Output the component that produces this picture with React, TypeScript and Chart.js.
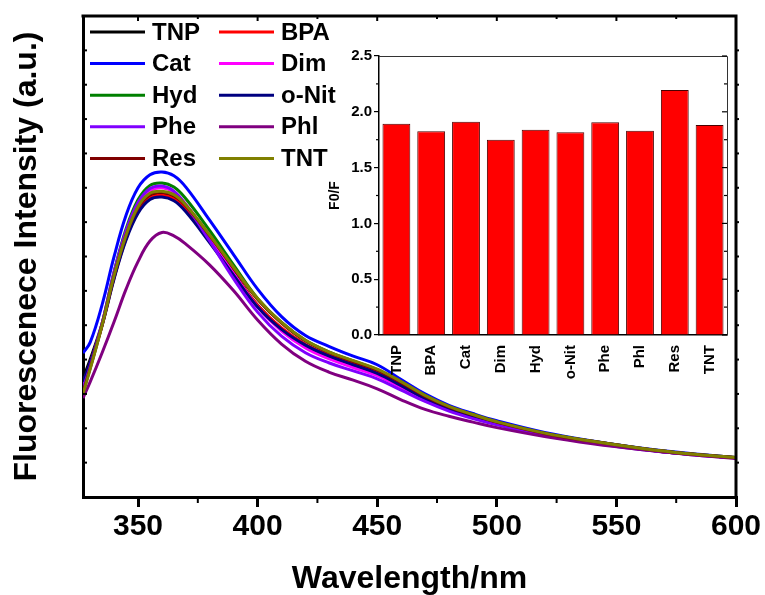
import React, { useEffect, useRef } from 'react';
import { Chart, registerables } from 'chart.js';

Chart.register(...registerables);

const FONT = '"Liberation Sans", Arial, Helvetica, sans-serif';

// ---------- main spectra ----------
const WAVELENGTHS = [327, 330, 335, 340, 345, 350, 355, 360, 365, 370, 380, 390, 400, 410, 420, 430, 440, 450, 460, 470, 480, 490, 500, 520, 540, 560, 580, 600];

const TNP = [3.45, 4.0, 5.05, 6.4, 7.55, 8.35, 8.75, 8.82, 8.72, 8.4, 7.5, 6.52, 5.58, 4.9, 4.42, 4.1, 3.85, 3.6, 3.24, 2.86, 2.56, 2.34, 2.14, 1.82, 1.6, 1.4, 1.25, 1.14];
const BPA = [3.3, 3.9, 5.0, 6.38, 7.52, 8.3, 8.7, 8.78, 8.68, 8.38, 7.48, 6.5, 5.58, 4.92, 4.44, 4.12, 3.87, 3.62, 3.26, 2.88, 2.58, 2.35, 2.15, 1.83, 1.6, 1.4, 1.25, 1.14];
const CAT = [4.19, 4.5, 5.6, 7.0, 8.2, 9.0, 9.38, 9.46, 9.35, 9.02, 8.05, 7.05, 6.05, 5.25, 4.7, 4.38, 4.1, 3.85, 3.42, 3.0, 2.67, 2.43, 2.22, 1.88, 1.63, 1.43, 1.27, 1.15];
const DIM = [3.2, 3.85, 5.05, 6.5, 7.7, 8.5, 8.92, 9.0, 8.88, 8.52, 7.55, 6.5, 5.53, 4.83, 4.34, 4.02, 3.77, 3.53, 3.19, 2.83, 2.54, 2.32, 2.13, 1.81, 1.59, 1.4, 1.25, 1.14];
const HYD = [3.1, 3.8, 5.05, 6.55, 7.8, 8.65, 9.07, 9.14, 9.02, 8.68, 7.75, 6.75, 5.78, 5.08, 4.56, 4.22, 3.96, 3.71, 3.35, 2.95, 2.63, 2.4, 2.19, 1.86, 1.62, 1.42, 1.26, 1.15];
const ONIT = [3.35, 3.92, 5.0, 6.35, 7.48, 8.26, 8.66, 8.73, 8.62, 8.3, 7.4, 6.45, 5.53, 4.88, 4.42, 4.1, 3.85, 3.6, 3.24, 2.86, 2.56, 2.34, 2.14, 1.82, 1.6, 1.4, 1.25, 1.14];
const PHE = [3.15, 3.8, 5.05, 6.55, 7.75, 8.57, 8.98, 9.05, 8.9, 8.5, 7.45, 6.35, 5.38, 4.68, 4.2, 3.9, 3.67, 3.44, 3.11, 2.78, 2.5, 2.28, 2.1, 1.79, 1.57, 1.38, 1.24, 1.13];
const PHL = [2.88, 3.35, 4.2, 5.1, 6.05, 6.85, 7.45, 7.7, 7.6, 7.36, 6.75, 6.0, 5.15, 4.45, 3.95, 3.63, 3.4, 3.15, 2.83, 2.55, 2.35, 2.18, 2.02, 1.76, 1.55, 1.38, 1.24, 1.12];
const RES = [3.05, 3.75, 5.0, 6.45, 7.62, 8.42, 8.8, 8.87, 8.77, 8.48, 7.6, 6.65, 5.75, 5.06, 4.54, 4.2, 3.94, 3.69, 3.33, 2.93, 2.62, 2.39, 2.18, 1.85, 1.62, 1.42, 1.26, 1.15];
const TNT = [3.0, 3.72, 5.0, 6.45, 7.62, 8.45, 8.84, 8.9, 8.8, 8.5, 7.62, 6.68, 5.78, 5.08, 4.56, 4.22, 3.97, 3.72, 3.36, 2.96, 2.64, 2.4, 2.19, 1.86, 1.62, 1.42, 1.26, 1.15];

const SERIES_NAMES = ['TNP', 'BPA', 'Cat', 'Dim', 'Hyd', 'o-Nit', 'Phe', 'Phl', 'Res', 'TNT'];
const SERIES_COLORS = ['#000000', '#ff0000', '#0000ff', '#ff00ff', '#008000', '#000080', '#8000ff', '#800080', '#800000', '#808000'];
const SPECTRA = [TNP, BPA, CAT, DIM, HYD, ONIT, PHE, PHL, RES, TNT];

const X_TICKS = [350, 400, 450, 500, 550, 600];
const X_MINOR = [375, 425, 475, 525, 575];
const Y_TICKS = [1, 2, 3, 4, 5, 6, 7, 8, 9, 10, 11, 12, 13];

// ---------- inset bars ----------
const BAR_CATEGORIES = ['TNP', 'BPA', 'Cat', 'Dim', 'Hyd', 'o-Nit', 'Phe', 'Phl', 'Res', 'TNT'];
const BAR_VALUES = [1.893, 1.825, 1.911, 1.75, 1.84, 1.816, 1.906, 1.831, 2.195, 1.882];
const INSET_Y_TICKS = [0, 0.5, 1.0, 1.5, 2.0, 2.5];
const INSET_Y_MINOR = [0.25, 0.75, 1.25, 1.75, 2.25];

function seg(ctx: CanvasRenderingContext2D, x1: number, y1: number, x2: number, y2: number) {
  ctx.beginPath();
  ctx.moveTo(x1, y1);
  ctx.lineTo(x2, y2);
  ctx.stroke();
}

const mainFramePlugin = {
  id: 'mainFrame',
  afterDraw(chart: any) {
    const { ctx, chartArea } = chart;
    const { left, right, top, bottom } = chartArea;
    const x = chart.scales.x;
    const y = chart.scales.y;
    ctx.save();
    ctx.strokeStyle = '#000';
    ctx.lineWidth = 3;
    ctx.beginPath();
    ctx.moveTo(left - 1.5, top);
    ctx.lineTo(right, top);
    ctx.lineTo(right, bottom + 1.5);
    ctx.stroke();
    ctx.lineWidth = 2;
    X_MINOR.forEach((v) => {
      const px = x.getPixelForValue(v);
      seg(ctx, px, bottom, px, bottom + 6);
      seg(ctx, px, top, px, top + 3);
    });
    X_TICKS.forEach((v) => {
      const px = x.getPixelForValue(v);
      seg(ctx, px, top, px, top + 5);
    });
    Y_TICKS.forEach((v) => {
      const py = y.getPixelForValue(v);
      seg(ctx, left, py, left + 4, py);
      seg(ctx, right, py, right + 3, py);
    });
    ctx.restore();
  },
};

const legendPlugin = {
  id: 'customLegend',
  afterDraw(chart: any) {
    const { ctx } = chart;
    ctx.save();
    ctx.font = `bold 24px ${FONT}`;
    ctx.textBaseline = 'middle';
    ctx.textAlign = 'left';
    ctx.lineWidth = 3;
    SERIES_NAMES.forEach((name, i) => {
      const col = i % 2;
      const row = Math.floor(i / 2);
      const yy = 32 + row * 31.6;
      const x0 = col === 0 ? 90 : 219;
      ctx.strokeStyle = SERIES_COLORS[i];
      seg(ctx, x0, yy, x0 + 55, yy);
      ctx.fillStyle = '#000';
      ctx.fillText(name, x0 + 62, yy + 1);
    });
    ctx.restore();
  },
};

const insetFramePlugin = {
  id: 'insetFrame',
  afterDraw(chart: any) {
    const { ctx, chartArea } = chart;
    const { left, right, top, bottom } = chartArea;
    const y = chart.scales.y;
    ctx.save();
    ctx.strokeStyle = '#333';
    ctx.lineWidth = 1;
    ctx.beginPath();
    ctx.moveTo(left, top + 0.5);
    ctx.lineTo(right + 0.5, top + 0.5);
    ctx.lineTo(right + 0.5, bottom);
    ctx.stroke();
    ctx.strokeStyle = '#000';
    ctx.lineWidth = 1.2;
    INSET_Y_MINOR.forEach((v) => {
      const py = y.getPixelForValue(v);
      seg(ctx, left - 3, py, left, py);
      seg(ctx, right, py, right - 3, py);
    });
    INSET_Y_TICKS.forEach((v) => {
      const py = y.getPixelForValue(v);
      seg(ctx, right, py, right - 5, py);
    });
    ctx.restore();
  },
};

export default function App() {
  const mainRef = useRef<HTMLCanvasElement | null>(null);
  const insetRef = useRef<HTMLCanvasElement | null>(null);

  useEffect(() => {
    document.body.style.margin = '0';
    const mainChart = new Chart(mainRef.current as HTMLCanvasElement, {
      type: 'line',
      data: {
        datasets: SPECTRA.map((vals, i) => ({
          label: SERIES_NAMES[i],
          data: WAVELENGTHS.map((w, j) => ({ x: w, y: vals[j] })),
          borderColor: SERIES_COLORS[i],
          backgroundColor: SERIES_COLORS[i],
          borderWidth: 3,
          pointRadius: 0,
          fill: false,
          tension: 0.4,
          order: SPECTRA.length - i,
        })),
      },
      options: {
        responsive: false,
        maintainAspectRatio: false,
        animation: false,
        layout: { padding: { top: 16, right: 29, left: 0, bottom: 0 } },
        plugins: { legend: { display: false }, tooltip: { enabled: false } },
        scales: {
          x: {
            type: 'linear',
            min: 327,
            max: 600,
            afterBuildTicks: (s: any) => {
              s.ticks = X_TICKS.map((v) => ({ value: v }));
            },
            afterFit: (s: any) => {
              s.height = 98;
            },
            ticks: {
              font: { family: FONT, size: 30, weight: 'bold' },
              color: '#000',
              padding: 2,
              maxRotation: 0,
              autoSkip: false,
            },
            grid: { display: true, drawOnChartArea: false, drawTicks: true, tickLength: 10, lineWidth: 3, color: '#000' },
            border: { display: true, width: 3, color: '#000' },
            title: {
              display: true,
              text: 'Wavelength/nm',
              color: '#000',
              font: { family: FONT, size: 32, weight: 'bold', lineHeight: 1 },
              padding: 0,
            },
          },
          y: {
            type: 'linear',
            min: 0,
            max: 14,
            ticks: { display: false },
            grid: { display: false },
            border: { display: true, width: 3, color: '#000' },
            afterFit: (s: any) => {
              s.width = 83;
            },
            title: {
              display: true,
              text: 'Fluorescenece Intensity (a.u.)',
              color: '#000',
              font: { family: FONT, size: 32, weight: 'bold', lineHeight: 1.2 },
              padding: { top: 8, bottom: 0 },
            },
          },
        },
      } as any,
      plugins: [mainFramePlugin, legendPlugin],
    });

    const insetChart = new Chart(insetRef.current as HTMLCanvasElement, {
      type: 'bar',
      data: {
        labels: BAR_CATEGORIES,
        datasets: [
          {
            label: 'F0/F',
            data: BAR_VALUES,
            backgroundColor: '#ff0000',
            borderColor: '#4a0000',
            borderWidth: 1,
            barPercentage: 0.8,
            categoryPercentage: 1,
          },
        ],
      },
      options: {
        responsive: false,
        maintainAspectRatio: false,
        animation: false,
        layout: { padding: { top: 16, right: 13, left: 0, bottom: 0 } },
        plugins: { legend: { display: false }, tooltip: { enabled: false } },
        scales: {
          x: {
            afterFit: (s: any) => {
              s.height = 60;
            },
            ticks: {
              font: { family: FONT, size: 15, weight: 'bold' },
              color: '#000',
              maxRotation: 90,
              minRotation: 90,
              autoSkip: false,
              padding: 2,
            },
            grid: { display: false },
            border: { display: true, width: 1.5, color: '#000' },
          },
          y: {
            min: 0,
            max: 2.5,
            afterBuildTicks: (s: any) => {
              s.ticks = INSET_Y_TICKS.map((v) => ({ value: v }));
            },
            afterFit: (s: any) => {
              s.width = 79;
            },
            ticks: {
              font: { family: FONT, size: 15, weight: 'bold' },
              color: '#000',
              padding: 2,
              callback: (v: any) => Number(v).toFixed(1),
            },
            grid: { display: true, drawOnChartArea: false, drawTicks: true, tickLength: 5, lineWidth: 1.2, color: '#000' },
            border: { display: true, width: 1.5, color: '#000' },
            title: {
              display: true,
              text: 'F0/F',
              color: '#000',
              font: { family: FONT, size: 14, weight: 'bold', lineHeight: 1.2 },
              padding: { top: 27, bottom: 0 },
            },
          },
        },
      } as any,
      plugins: [insetFramePlugin],
    });

    return () => {
      mainChart.destroy();
      insetChart.destroy();
    };
  }, []);

  return (
    <div style={{ position: 'relative', width: 765, height: 595, background: '#fff' }}>
      <canvas ref={mainRef} width={765} height={595} style={{ position: 'absolute', left: 0, top: 0, width: 765, height: 595 }} />
      <canvas ref={insetRef} width={440} height={355} style={{ position: 'absolute', left: 300, top: 40, width: 440, height: 355 }} />
    </div>
  );
}
